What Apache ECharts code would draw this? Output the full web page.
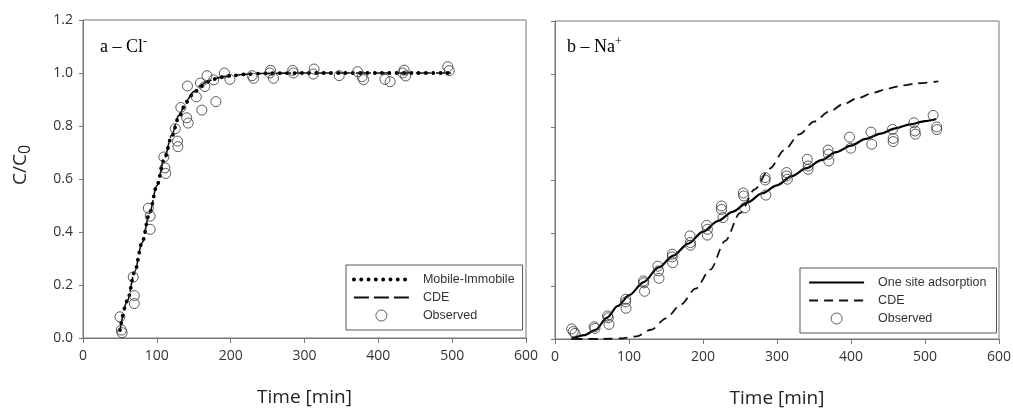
<!DOCTYPE html>
<html>
<head>
<meta charset="utf-8">
<script src="https://cdn.jsdelivr.net/npm/echarts@6/dist/echarts.min.js"></script>
<style>html,body{margin:0;padding:0;background:#fff;}#c{width:1013px;height:410px;}</style>
</head>
<body>
<div id="c"></div>
<script>
// ---- Panel a (Cl-) ----
var aModelTime = [50,60,70,80,90,100,110,120,130,140,150,160,170,180,190,200,225,250,300,350,400,450,500];
var aMobileImmobile = [0.03,0.14,0.25,0.36,0.47,0.575,0.675,0.76,0.835,0.89,0.925,0.95,0.967,0.978,0.985,0.99,0.996,0.999,1,1,1,1,1];
var aCDE = [0.03,0.14,0.25,0.36,0.47,0.575,0.675,0.765,0.84,0.895,0.93,0.955,0.97,0.98,0.987,0.991,0.996,0.999,1,1,1,1,1];
var aObsTime = [50,52,53,68,69.5,69.5,88.5,91,91,109.5,111,112,125,128,128.5,132.5,140.5,142.5,141.5,153.5,161,159,165,168,177,180,191.5,199,229,231,253,254,258,284,285,313,312,347,372,378,380,409,416,433,435,437,494,496];
var aObsValue = [0.08,0.03,0.02,0.23,0.16,0.13,0.49,0.46,0.41,0.683,0.642,0.621,0.79,0.743,0.722,0.87,0.831,0.811,0.951,0.91,0.86,0.962,0.949,0.99,0.974,0.892,1.0,0.976,0.99,0.98,1.0,1.01,0.98,1.01,1.0,1.015,0.996,0.99,1.005,0.986,0.975,0.976,0.967,1.0,1.011,0.989,1.024,1.009];

// ---- Panel b (Na+) ----
var bOneSiteTime = [22,40,55,70,85,100,120,140,160,180,200,220,240,260,280,300,320,340,360,380,400,420,440,460,480,500,515];
var bOneSite = [0,0.015,0.035,0.08,0.125,0.165,0.215,0.27,0.315,0.36,0.405,0.445,0.48,0.515,0.55,0.58,0.615,0.645,0.675,0.705,0.73,0.755,0.775,0.795,0.81,0.822,0.83];
var bCDETime = [25,60,90,110,130,150,170,190,210,230,250,270,290,310,330,350,370,390,410,430,450,470,490,518];
var bCDE = [0,0,0.002,0.01,0.035,0.078,0.13,0.19,0.262,0.37,0.475,0.565,0.643,0.713,0.772,0.82,0.857,0.887,0.91,0.929,0.945,0.957,0.965,0.972];
var bObsTime = [22.5,24.8,27,53,54,71,72,73,95.5,95.5,96,119.5,120,121,139,140,140.5,158.5,158.5,159,182.4,183,183,205,206,206,225,225,227,254.5,255,256.5,284,284,285,313,313,314,341,342,342,369,369.5,370,398,399.6,427,428,456,457,457,485,486.5,487,511,515.8,516];
var bObsValue = [0.038,0.028,0.021,0.046,0.04,0.087,0.08,0.055,0.15,0.14,0.116,0.219,0.212,0.18,0.275,0.257,0.229,0.32,0.31,0.288,0.389,0.364,0.354,0.429,0.414,0.392,0.502,0.489,0.458,0.551,0.54,0.495,0.609,0.6,0.543,0.628,0.615,0.603,0.678,0.653,0.64,0.713,0.697,0.672,0.762,0.72,0.781,0.735,0.791,0.757,0.745,0.816,0.785,0.773,0.844,0.8,0.79];

// tick labels
var xTicks = [0,100,200,300,400,500,600];
var yTicks = ['0.0','0.2','0.4','0.6','0.8','1.0','1.2'];

function zip(a, b) { return a.map(function (v, i) { return [v, b[i]]; }); }

var AX = '#777';
var TICKFONT = {fontFamily: 'Open Sans', fontSize: 14, color: '#333'};

function xAxis(gi) {
  return {
    gridIndex: gi, type: 'value', min: xTicks[0], max: xTicks[xTicks.length - 1], interval: 100,
    axisLine: {show: true, onZero: false, lineStyle: {color: AX, width: 1}},
    axisTick: {show: true, inside: false, length: 5, lineStyle: {color: AX}},
    axisLabel: Object.assign({margin: 11}, TICKFONT),
    splitLine: {show: false},
    name: 'Time [min]', nameLocation: 'middle', nameGap: 50,
    nameTextStyle: {fontFamily: 'Open Sans', fontSize: 19, color: '#222'}
  };
}
function yAxis(gi, labels) {
  var o = {
    gridIndex: gi, type: 'value', min: 0, max: 1.2, interval: 0.2,
    axisLine: {show: true, onZero: false, lineStyle: {color: AX, width: 1}},
    axisTick: {show: true, inside: false, length: 4, lineStyle: {color: AX}},
    axisLabel: Object.assign({show: labels, margin: 10, formatter: function (v) { return yTicks[Math.round(v / 0.2)]; }}, TICKFONT),
    splitLine: {show: false}
  };
  if (labels) {
    o.name = '{a|C/C}{b|0}';
    o.nameLocation = 'middle';
    o.nameRotate = 90;
    o.nameGap = 50;
    o.nameTextStyle = {padding: [0, 0, 0, 28], rich: {
      a: {fontFamily: 'Open Sans', fontSize: 19, color: '#222'},
      b: {fontFamily: 'Open Sans', fontSize: 16, color: '#222', verticalAlign: 'bottom', padding: [8, 0, 0, 0]}
    }};
  }
  return o;
}

var obsStyle = {color: 'rgba(0,0,0,0)', borderColor: '#333', borderWidth: 1};
var legendText = {fontFamily: 'Liberation Sans', fontSize: 12.5, color: '#333', padding: [0, 0, 0, 9]};
var noSym = {color: 'rgba(0,0,0,0)', borderColor: 'rgba(0,0,0,0)', borderWidth: 0};
var obsLegSym = {color: 'rgba(0,0,0,0)', borderColor: '#333', borderWidth: 1};

var option = {
  backgroundColor: '#fff',
  animation: false,
  grid: [
    {left: 83, top: 20, width: 443, height: 318, show: true, borderColor: AX, borderWidth: 1, backgroundColor: '#fff', outerBoundsMode: 'none', containLabel: false},
    {left: 555, top: 21, width: 444, height: 318, show: true, borderColor: AX, borderWidth: 1, backgroundColor: '#fff', outerBoundsMode: 'none', containLabel: false}
  ],
  xAxis: [xAxis(0), xAxis(1)],
  yAxis: [yAxis(0, true), yAxis(1, false)],
  legend: [
    {left: 346, top: 265, orient: 'vertical', selectedMode: false,
     borderColor: '#555', borderWidth: 1, padding: [8, 8, 8, 6],
     itemWidth: 55, itemHeight: 11, itemGap: 5, textStyle: legendText,
     data: [
       {name: 'Mobile-Immobile', itemStyle: noSym, lineStyle: {width: 3.8}},
       {name: 'CDE', itemStyle: noSym, lineStyle: {width: 1.8}},
       {name: 'Observed', itemStyle: obsLegSym}
     ]},
    {left: 800, top: 268, orient: 'vertical', selectedMode: false,
     borderColor: '#555', borderWidth: 1, padding: [8, 10, 8, 8],
     itemWidth: 55, itemHeight: 11, itemGap: 5, textStyle: legendText,
     data: [
       {name: 'One site adsorption', itemStyle: noSym, lineStyle: {width: 2.2}},
       {name: 'CDE ', itemStyle: noSym, lineStyle: {width: 1.8}},
       {name: 'Observed ', itemStyle: obsLegSym}
     ]}
  ],
  graphic: [
    {type: 'text', left: 100, top: 36, style: {
      text: '{t|a – Cl}{s|-}',
      rich: {t: {fontFamily: 'Liberation Serif', fontSize: 18, color: '#111', lineHeight: 22},
             s: {fontFamily: 'Liberation Serif', fontSize: 12, color: '#111', verticalAlign: 'top', lineHeight: 14}}
    }},
    {type: 'text', left: 567, top: 36, style: {
      text: '{t|b – Na}{s|+}',
      rich: {t: {fontFamily: 'Liberation Serif', fontSize: 18, color: '#111', lineHeight: 22},
             s: {fontFamily: 'Liberation Serif', fontSize: 12, color: '#111', verticalAlign: 'top', lineHeight: 14}}
    }}
  ],
  series: [
    {name: 'CDE', type: 'line', xAxisIndex: 0, yAxisIndex: 0, data: zip(aModelTime, aCDE),
     symbol: 'none', smooth: 0.3, smoothMonotone: 'x', z: 2,
     lineStyle: {color: '#111', width: 1.6, type: [15, 5]}, itemStyle: {color: '#111'}},
    {name: 'Mobile-Immobile', type: 'line', xAxisIndex: 0, yAxisIndex: 0, data: zip(aModelTime, aMobileImmobile),
     symbol: 'none', smooth: 0.3, smoothMonotone: 'x', z: 3,
     lineStyle: {color: '#000', width: 3.8, type: [0.1, 7.2], cap: 'round'}, itemStyle: {color: '#000'}},
    {name: 'Observed', type: 'scatter', xAxisIndex: 0, yAxisIndex: 0, data: zip(aObsTime, aObsValue),
     symbol: 'circle', symbolSize: 10, itemStyle: obsStyle, z: 4},

    {name: 'CDE ', type: 'line', xAxisIndex: 1, yAxisIndex: 1, data: zip(bCDETime, bCDE),
     symbol: 'none', smooth: 0.3, smoothMonotone: 'x', z: 2,
     lineStyle: {color: '#111', width: 1.8, type: [9, 6]}, itemStyle: {color: '#111'}},
    {name: 'One site adsorption', type: 'line', xAxisIndex: 1, yAxisIndex: 1, data: zip(bOneSiteTime, bOneSite),
     symbol: 'none', smooth: 0.3, smoothMonotone: 'x', z: 3,
     lineStyle: {color: '#000', width: 2.2}, itemStyle: {color: '#000'}},
    {name: 'Observed ', type: 'scatter', xAxisIndex: 1, yAxisIndex: 1, data: zip(bObsTime, bObsValue),
     symbol: 'circle', symbolSize: 10, itemStyle: obsStyle, z: 4}
  ]
};

var chart = echarts.init(document.getElementById('c'), null, {renderer: 'canvas'});
chart.setOption(option);
</script>
</body>
</html>
